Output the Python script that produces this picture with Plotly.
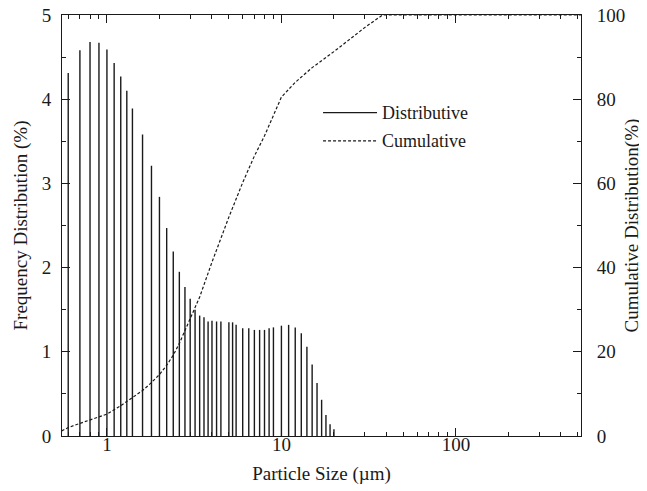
import plotly.graph_objects as go

# Particle size bins (µm) and frequency distribution (%)
size_um = [0.6, 0.7, 0.8, 0.9, 1.0, 1.1, 1.2, 1.3, 1.4, 1.6, 1.8, 2.0, 2.2, 2.4, 2.6, 2.8,
           3.0, 3.2, 3.4, 3.6, 3.8, 4.0, 4.25, 4.5, 5.0, 5.25, 5.5, 6.0, 6.5, 7.0, 7.5, 8.0,
           8.5, 9.0, 10, 11, 12, 13, 14, 15, 16, 17, 18, 19, 20]
freq_pct = [4.31, 4.58, 4.68, 4.67, 4.59, 4.43, 4.27, 4.10, 3.89, 3.58, 3.21, 2.84, 2.47, 2.19,
            1.95, 1.77, 1.63, 1.50, 1.43, 1.41, 1.36, 1.37, 1.36, 1.36, 1.35, 1.35, 1.32, 1.28,
            1.28, 1.26, 1.26, 1.26, 1.28, 1.29, 1.31, 1.32, 1.29, 1.22, 1.06, 0.85, 0.63, 0.43,
            0.25, 0.14, 0.08]

# Cumulative distribution (%)
cum_size = [0.55, 0.6, 0.7, 0.8, 0.9, 1.0, 1.2, 1.4, 1.6, 1.8, 2.0, 2.2, 2.4, 2.6, 2.8, 3.0,
            3.4, 4.0, 5.0, 6.0, 7.0, 8.0, 10, 12, 15, 20, 25, 30, 38, 40, 100, 521]
cum_pct = [1.2, 2.0, 3.0, 3.8, 4.6, 5.2, 7.2, 9.1, 10.8, 12.7, 14.6, 16.8, 19.2, 22.0, 25.0, 28.0,
           33.0, 41.3, 52.0, 60.2, 66.5, 71.3, 80.5, 84.0, 87.5, 91.3, 94.5, 97.0, 100, 100, 100, 100]

x_major = [1, 10, 100]
x_labels = ["1", "10", "100"]
x_minor = [0.6, 0.7, 0.8, 0.9, 2, 3, 4, 5, 6, 7, 8, 9, 20, 30, 40, 50, 60, 70, 80, 90,
           200, 300, 400, 500]

FONT = "Liberation Serif"
INK = "#1a1a1a"

bx, by = [], []
for s, f in zip(size_um, freq_pct):
    bx += [s, s, None]
    by += [0, f, None]

fig = go.Figure()
fig.add_trace(go.Scatter(x=bx, y=by, mode="lines", name="Distributive",
                         line=dict(color=INK, width=1.4), showlegend=False, hoverinfo="skip"))
fig.add_trace(go.Scatter(x=cum_size, y=cum_pct, mode="lines", name="Cumulative", yaxis="y2",
                         line=dict(color=INK, width=1.2, dash="3px,2px"), showlegend=False))

# page body has an 8px margin, so the figure is sized to fit inside the window
fig.update_layout(
    width=639, height=483,
    margin=dict(l=54, r=66, t=7, b=55),
    paper_bgcolor="white", plot_bgcolor="white",
    font=dict(family=FONT, size=19, color=INK),
    xaxis=dict(type="log", range=[-0.2575, 2.717], tickmode="array", tickvals=x_major,
               ticktext=x_labels, ticks="inside", ticklen=8, tickwidth=1, tickcolor=INK,
               showline=True, linecolor=INK, linewidth=1, mirror="ticks", showgrid=False,
               zeroline=False, automargin=False, ticklabelstandoff=-9,
               minor=dict(tickmode="array", tickvals=x_minor, ticks="inside", ticklen=4,
                          tickwidth=1, tickcolor=INK, showgrid=False),
               title=dict(text="Particle Size (µm)", standoff=12, font=dict(size=19))),
    yaxis=dict(range=[0, 5], dtick=1, ticks="inside", ticklen=8, tickwidth=1, tickcolor=INK,
               showline=True, linecolor=INK, linewidth=1, showgrid=False, zeroline=False,
               automargin=False, ticklabeloverflow="allow",
               minor=dict(dtick=0.5, ticks="inside", ticklen=4, tickwidth=1, tickcolor=INK,
                          showgrid=False),
               ticklabelstandoff=6,
               title=dict(text="Frequency Distribution (%)", standoff=9, font=dict(size=19))),
    yaxis2=dict(range=[0, 100], dtick=20, overlaying="y", side="right", ticks="inside",
                ticklen=8, tickwidth=1, tickcolor=INK, showline=True, linecolor=INK,
                linewidth=1, showgrid=False, zeroline=False, automargin=False,
                ticklabeloverflow="allow",
                minor=dict(dtick=10, ticks="inside", ticklen=4, tickwidth=1, tickcolor=INK,
                           showgrid=False),
                ticklabelstandoff=11,
                title=dict(text="Cumulative Distribution(%)", standoff=0, font=dict(size=19))),
)

# Legend drawn in the plot area
fig.add_shape(type="line", xref="paper", yref="paper", x0=0.503, x1=0.607, y0=0.768, y1=0.768,
              line=dict(color=INK, width=1.4))
fig.add_shape(type="line", xref="paper", yref="paper", x0=0.503, x1=0.607, y0=0.701, y1=0.701,
              line=dict(color=INK, width=1.2, dash="3px,2px"))
fig.add_annotation(xref="paper", yref="paper", x=0.613, y=0.768, text="Distributive",
                   showarrow=False, xanchor="left", yanchor="middle", font=dict(size=18))
fig.add_annotation(xref="paper", yref="paper", x=0.613, y=0.701, text="Cumulative",
                   showarrow=False, xanchor="left", yanchor="middle", font=dict(size=18))

fig.write_html("out.html")
